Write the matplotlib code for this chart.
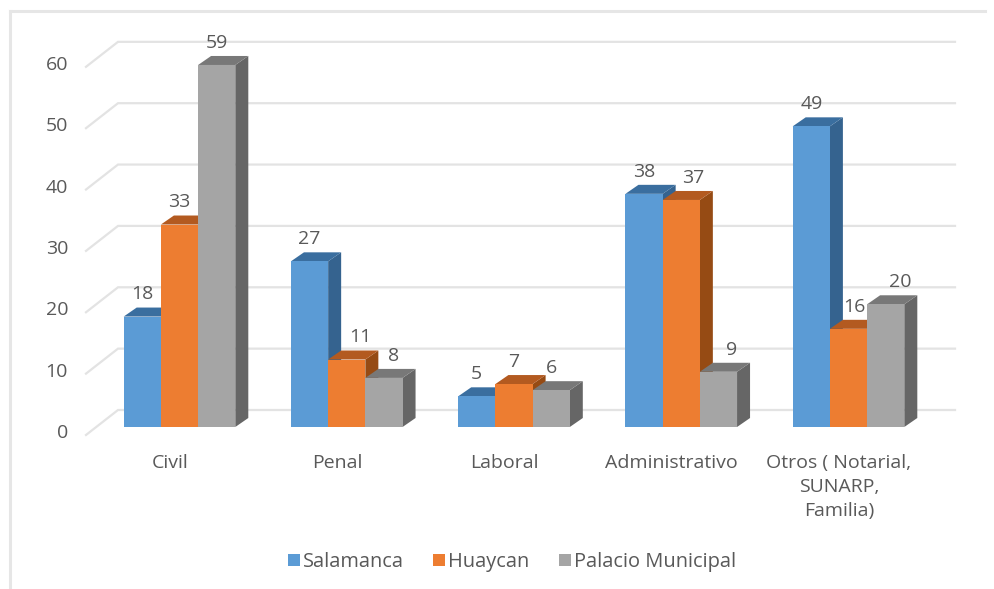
import matplotlib

matplotlib.use("Agg")
import matplotlib.pyplot as plt
from matplotlib.lines import Line2D
from matplotlib.patches import Patch

plt.rcParams["font.family"] = ["Open Sans", "DejaVu Sans"]

categories = ["Civil", "Penal", "Laboral", "Administrativo", "Otros ( Notarial,\nSUNARP,\nFamilia)"]
series_names = ["Salamanca", "Huaycan", "Palacio Municipal"]
salamanca = [18, 27, 5, 38, 49]
huaycan = [33, 11, 7, 37, 16]
palacio = [59, 8, 6, 9, 20]
y_ticks = [0, 10, 20, 30, 40, 50, 60]

front_colors = ["#5B9BD5", "#ED7D31", "#A5A5A5"]
top_colors = ["#3A6E9F", "#B35A20", "#787878"]
side_colors = ["#35638F", "#964B14", "#666666"]
text_color = "#595959"
grid_color = "#E3E3E3"

# scale of the axes, in pixels
W, H = 994, 589
PX_X = 167.25
PX_Y = 6.136
X0_PX = 179.5
Y0_PX = 427

bar_w = 37.2 / PX_X
dx = 13 / PX_X
dy = 9 / PX_Y

# labels moved sideways off the taller neighbour, (series, category): pixels
label_nudge = {(1, 1): 14, (2, 1): 10, (1, 3): 12, (2, 3): 13, (1, 4): 6, (2, 4): 15}

fig = plt.figure(figsize=(W / 100, H / 100), dpi=100)
ax = fig.add_axes([0, 0, 1, 1])
ax.set_xlim(-X0_PX / PX_X, (W - X0_PX) / PX_X)
ax.set_ylim(-(H - Y0_PX) / PX_Y, Y0_PX / PX_Y)
ax.axis("off")

# outer frame of the chart
frame = dict(color="#E6E6E6", lw=2.2, transform=ax.transAxes, zorder=1)
ax.add_line(Line2D([10 / W, 10 / W], [0, 1 - 11 / H], **frame))
ax.add_line(Line2D([10 / W, 985 / W], [1 - 11 / H, 1 - 11 / H], **frame))

# gridlines: slanted on the floor side, then along the back wall
xl = (86 - X0_PX) / PX_X
xb = (118 - X0_PX) / PX_X
xr = (955 - X0_PX) / PX_X
for v in y_ticks:
    ax.plot([xl, xb, xr], [v - 1.3, v + 2.77, v + 2.77], color=grid_color, lw=1.6, zorder=2,
            solid_joinstyle="miter")
    ax.text((68 - X0_PX) / PX_X, v - 1.0, str(v), ha="right", va="center", color=text_color, fontsize=14)

for s, values in enumerate([salamanca, huaycan, palacio]):
    for i, v in enumerate(values):
        x0 = i + (s - 1.5) * bar_w
        x1 = x0 + bar_w
        z = 3 + s + i * 3
        ax.fill([x1, x1 + dx, x1 + dx, x1], [0, dy, v + dy, v], color=side_colors[s], lw=0, zorder=z)
        ax.fill([x0, x1, x1 + dx, x0 + dx], [v, v, v + dy, v + dy], color=top_colors[s], lw=0, zorder=z)
        ax.bar(x0, v, width=bar_w, align="edge", color=front_colors[s], zorder=z)
        shift = label_nudge.get((s, i), 0) / PX_X
        ax.text(x0 + bar_w / 2 + shift, v + 3.6, str(v), ha="center", va="center", color=text_color,
                fontsize=14, zorder=30)

for i, c in enumerate(categories):
    ax.text(i - 9.5 / PX_X, (Y0_PX - 454) / PX_Y, c, ha="center", va="top", color=text_color,
            fontsize=14, linespacing=1.42)

handles = [Patch(color=c, lw=0) for c in front_colors]
fig.legend(handles, series_names, loc="center", bbox_to_anchor=(512 / W, 1 - 562 / H), ncol=3, frameon=False,
           fontsize=14.4, labelcolor=text_color, handlelength=0.6, handleheight=0.6, handletextpad=0.15,
           columnspacing=1.45)

fig.savefig("out.png", dpi=100)
